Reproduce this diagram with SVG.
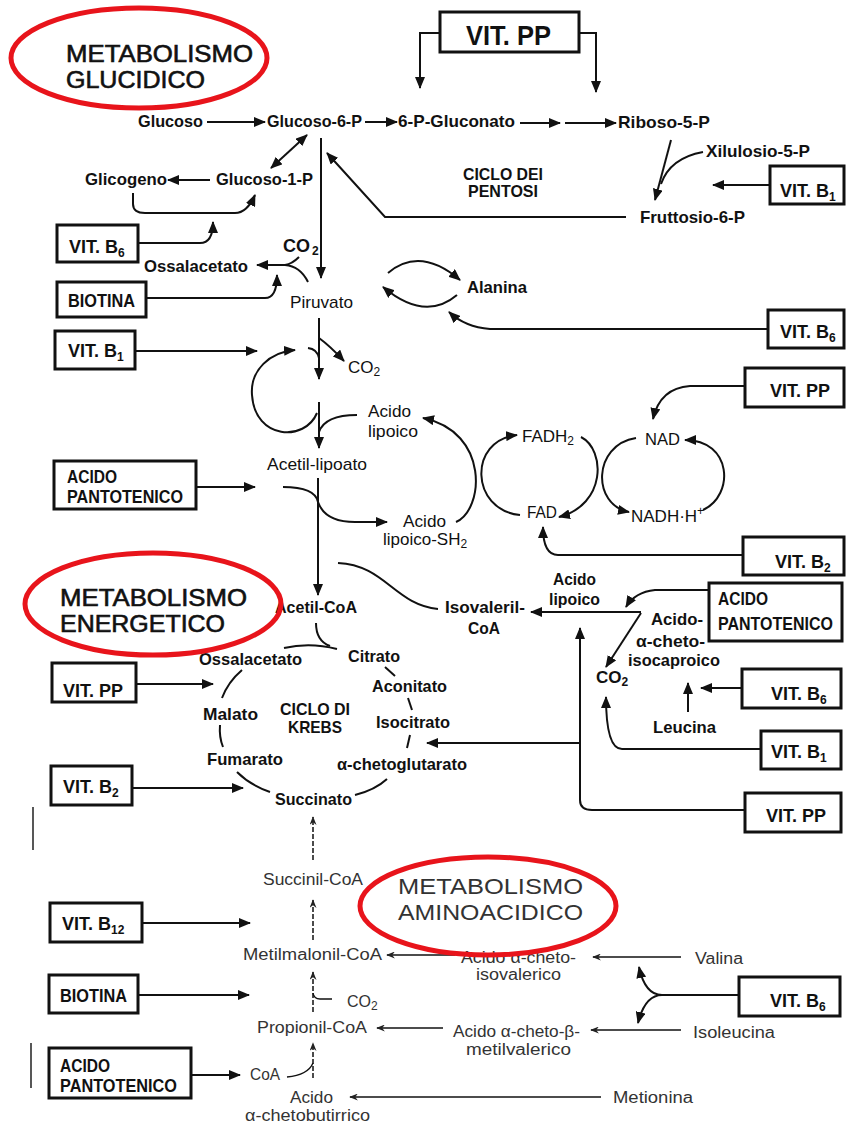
<svg xmlns="http://www.w3.org/2000/svg" width="846" height="1123" viewBox="0 0 846 1123">
<defs>
<style>
text{font-family:"Liberation Sans",Arial,sans-serif;fill:#111}
.b{font-weight:bold;font-size:17px}
.r{font-size:17px}
.bx{font-weight:bold;font-size:18px}
.big{font-size:23px;stroke:#111;stroke-width:0.6}
.lt{font-size:16px;fill:#333}
.ltb{font-size:22px;fill:#333}
.sub{font-size:12px}
rect{fill:#fff;stroke:#111;stroke-width:3}
#connectors path{fill:none;stroke:#111;stroke-width:2}
#connectors .th{stroke-width:1.4}
#connectors .d{stroke-width:1.5;stroke-dasharray:5 2}
.ell{fill:none;stroke:#e8141b;stroke-width:5}
</style>
<marker id="a" viewBox="0 0 12 10" refX="11" refY="5" markerWidth="12" markerHeight="10" markerUnits="userSpaceOnUse" orient="auto-start-reverse"><path d="M0,0 L12,5 L0,10 z" fill="#111"/></marker>
<marker id="s" viewBox="0 0 10 8" refX="9" refY="4" markerWidth="9" markerHeight="7" markerUnits="userSpaceOnUse" orient="auto"><path d="M0,0 L10,4 L0,8 L3,4 z" fill="#222"/></marker>
</defs>
<rect x="0" y="0" width="846" height="1123" style="fill:#fff;stroke:none"/>

<g id="connectors">
<path d="M440,33 H420 V88" marker-end="url(#a)"/>
<path d="M579,33 H596 V92" marker-end="url(#a)"/>
<path d="M207,122 H265" marker-end="url(#a)"/>
<path d="M365,122 H397" marker-end="url(#a)"/>
<path d="M520,123 H560" marker-end="url(#a)"/>
<path d="M565,123 H616" marker-end="url(#a)"/>
<path d="M307,135 L271,168" marker-start="url(#a)" marker-end="url(#a)"/>
<path d="M210,180 H168" marker-end="url(#a)"/>
<path d="M133,193 V204 Q133,213 145,213 H235 Q247,213 255,195" marker-end="url(#a)"/>
<path d="M138,243 H200 Q213,243 213,222" marker-end="url(#a)"/>
<path d="M321,138 V278" marker-end="url(#a)"/>
<path d="M626,217 H385 L327,153" marker-end="url(#a)"/>
<path d="M671,140 L655,200" marker-end="url(#a)"/>
<path d="M703,152 Q670,158 661,184"/>
<path d="M770,185 H713" marker-end="url(#a)"/>
<path d="M308,282 Q300,266 285,265 H257" marker-end="url(#a)"/>
<path d="M299,257 Q292,264 285,265"/>
<path d="M146,298 H265 Q277,298 277,275" marker-end="url(#a)"/>
<path d="M388,273 Q420,246 460,280" marker-end="url(#a)"/>
<path d="M457,295 Q425,322 383,287" marker-end="url(#a)"/>
<path d="M768,329 H490 Q465,327 449,312" marker-end="url(#a)"/>
<path d="M135,351 H257" marker-end="url(#a)"/>
<path d="M319,318 V379" marker-end="url(#a)"/>
<path d="M319,338 Q330,346 344,361" marker-end="url(#a)"/>
<path d="M308,348 Q317,349 319,358"/>
<path d="M317,413 C305,442 255,440 252,395 C250,370 270,352 295,350" marker-end="url(#a)"/>
<path d="M319,402 V448" marker-end="url(#a)"/>
<path d="M357,415 Q325,415 319,432"/>
<path d="M196,487 H255" marker-end="url(#a)"/>
<path d="M318,478 V595" marker-end="url(#a)"/>
<path d="M283,487 Q315,487 318,502 Q325,522 355,522 H387" marker-end="url(#a)"/>
<path d="M456,522 C484,510 490,432 423,418" marker-end="url(#a)"/>
<path d="M520,515 C470,510 468,440 517,435" marker-end="url(#a)"/>
<path d="M581,437 C606,450 606,505 559,517" marker-end="url(#a)"/>
<path d="M636,438 C592,445 592,505 629,512" marker-end="url(#a)"/>
<path d="M703,510 C735,495 732,440 685,440" marker-end="url(#a)"/>
<path d="M745,386 H690 Q660,388 653,419" marker-end="url(#a)"/>
<path d="M743,555 H558 Q543,555 543,527" marker-end="url(#a)"/>
<path d="M338,563 C385,565 395,605 438,609"/>
<path d="M641,612 H531" marker-end="url(#a)"/>
<path d="M641,613 L606,667" marker-end="url(#a)"/>
<path d="M709,590 H655 Q635,592 626,607" marker-end="url(#a)"/>
<path d="M742,688 H701" marker-end="url(#a)"/>
<path d="M688,712 V683" marker-end="url(#a)"/>
<path d="M761,749 H622 Q606,749 606,697" marker-end="url(#a)"/>
<path d="M580,743 V628" marker-end="url(#a)"/>
<path d="M580,743 V800 Q580,810 592,810 H745"/>
<path d="M580,743 H427" marker-end="url(#a)"/>
<path d="M316,623 Q316,641 330,646"/>
<path d="M284,648 Q310,642 337,649"/>
<path d="M242,670 Q228,682 222,698"/>
<path d="M220,725 Q219,737 223,747"/>
<path d="M237,772 Q250,785 270,792"/>
<path d="M355,795 Q375,790 387,779"/>
<path d="M385,667 L395,676"/>
<path d="M408,698 L412,710"/>
<path d="M410,735 L407,748"/>
<path d="M136,684 H213" marker-end="url(#a)"/>
<path d="M132,788 H243" marker-end="url(#a)"/>
<path class="d" d="M313,860 V817" marker-end="url(#s)"/>
<path class="d" d="M313,940 V900" marker-end="url(#s)"/>
<path d="M142,923 H250" marker-end="url(#a)"/>
<path class="th" d="M455,955 H387" marker-end="url(#s)"/>
<path class="th" d="M681,957 H593" marker-end="url(#s)"/>
<path d="M739,995 H662 Q645,995 639,967" marker-end="url(#a)"/>
<path d="M662,995 Q645,995 638,1023" marker-end="url(#a)"/>
<path d="M138,995 H249" marker-end="url(#a)"/>
<path class="d" d="M313,1012 V972" marker-end="url(#s)"/>
<path class="th" d="M332,999 H320 Q314,999 313,993"/>
<path class="th" d="M443,1028 H377" marker-end="url(#s)"/>
<path class="th" d="M681,1030 H591" marker-end="url(#s)"/>
<path d="M191,1075 H240" marker-end="url(#a)"/>
<path class="th" d="M287,1077 Q308,1075 313,1063"/>
<path class="d" d="M313,1078 V1043" marker-end="url(#s)"/>
<path class="th" d="M601,1097 H350" marker-end="url(#s)"/>
<path class="th" d="M33,807 V850"/>
<path class="th" d="M31,1043 V1088"/>
</g>

<g id="box-vitpp-top"><rect x="440" y="12" width="139" height="40"/><text x="466" y="45" style="font-weight:bold;font-size:28px" textLength="85" lengthAdjust="spacingAndGlyphs">VIT. PP</text></g>
<g id="box-vitb1-1"><rect x="770" y="166" width="74" height="38"/><text class="bx" x="780" y="197">VIT. B<tspan class="sub" dy="4">1</tspan></text></g>
<g id="box-vitb6-1"><rect x="57" y="225" width="81" height="37"/><text class="bx" x="69" y="253">VIT. B<tspan class="sub" dy="4">6</tspan></text></g>
<g id="box-biotina-1"><rect x="57" y="282" width="89" height="35"/><text class="bx" x="68" y="307" textLength="67" lengthAdjust="spacingAndGlyphs">BIOTINA</text></g>
<g id="box-vitb6-2"><rect x="768" y="310" width="76" height="38"/><text class="bx" x="780" y="338">VIT. B<tspan class="sub" dy="4">6</tspan></text></g>
<g id="box-vitb1-2"><rect x="55" y="331" width="80" height="38"/><text class="bx" x="68" y="357">VIT. B<tspan class="sub" dy="4">1</tspan></text></g>
<g id="box-vitpp-2"><rect x="745" y="368" width="99" height="39"/><text class="bx" x="770" y="397">VIT. PP</text></g>
<g id="box-pant-1"><rect x="54" y="461" width="142" height="48"/><text class="bx" x="67" y="483" textLength="50" lengthAdjust="spacingAndGlyphs">ACIDO</text><text class="bx" x="67" y="503" textLength="116" lengthAdjust="spacingAndGlyphs">PANTOTENICO</text></g>
<g id="box-vitb2-1"><rect x="743" y="537" width="101" height="38"/><text class="bx" x="775" y="568">VIT. B<tspan class="sub" dy="4">2</tspan></text></g>
<g id="box-pant-2"><rect x="709" y="583" width="133" height="58"/><text class="bx" x="718" y="605" textLength="50" lengthAdjust="spacingAndGlyphs">ACIDO</text><text class="bx" x="718" y="630" textLength="115" lengthAdjust="spacingAndGlyphs">PANTOTENICO</text></g>
<g id="box-vitpp-3"><rect x="52" y="663" width="84" height="39"/><text class="bx" x="63" y="697">VIT. PP</text></g>
<g id="box-vitb6-3"><rect x="742" y="669" width="99" height="39"/><text class="bx" x="771" y="700">VIT. B<tspan class="sub" dy="4">6</tspan></text></g>
<g id="box-vitb1-3"><rect x="761" y="731" width="80" height="38"/><text class="bx" x="771" y="758">VIT. B<tspan class="sub" dy="4">1</tspan></text></g>
<g id="box-vitb2-2"><rect x="51" y="766" width="81" height="39"/><text class="bx" x="63" y="793">VIT. B<tspan class="sub" dy="4">2</tspan></text></g>
<g id="box-vitpp-4"><rect x="745" y="793" width="96" height="39"/><text class="bx" x="766" y="822">VIT. PP</text></g>
<g id="box-vitb12"><rect x="50" y="903" width="92" height="39"/><text class="bx" x="62" y="930">VIT. B<tspan class="sub" dy="4">12</tspan></text></g>
<g id="box-biotina-2"><rect x="49" y="975" width="89" height="38"/><text class="bx" x="60" y="1002" textLength="67" lengthAdjust="spacingAndGlyphs">BIOTINA</text></g>
<g id="box-vitb6-4"><rect x="739" y="977" width="101" height="39"/><text class="bx" x="770" y="1007">VIT. B<tspan class="sub" dy="4">6</tspan></text></g>
<g id="box-pant-3"><rect x="49" y="1048" width="142" height="50"/><text class="bx" x="60" y="1072" textLength="50" lengthAdjust="spacingAndGlyphs">ACIDO</text><text class="bx" x="60" y="1092" textLength="117" lengthAdjust="spacingAndGlyphs">PANTOTENICO</text></g>

<g id="n-glucoso"><text class="b" x="138" y="127" textLength="65" lengthAdjust="spacingAndGlyphs">Glucoso</text></g>
<g id="n-g6p"><text class="b" x="267" y="127" textLength="95" lengthAdjust="spacingAndGlyphs">Glucoso-6-P</text></g>
<g id="n-6pg"><text class="b" x="398" y="127" textLength="117" lengthAdjust="spacingAndGlyphs">6-P-Gluconato</text></g>
<g id="n-r5p"><text class="b" x="618" y="128" textLength="92" lengthAdjust="spacingAndGlyphs">Riboso-5-P</text></g>
<g id="n-glicogeno"><text class="b" x="85" y="185" textLength="82" lengthAdjust="spacingAndGlyphs">Glicogeno</text></g>
<g id="n-g1p"><text class="b" x="216" y="185" textLength="97" lengthAdjust="spacingAndGlyphs">Glucoso-1-P</text></g>
<g id="n-x5p"><text class="b" x="706" y="157" textLength="104" lengthAdjust="spacingAndGlyphs">Xilulosio-5-P</text></g>
<g id="n-pentosi"><text class="b" x="463" y="180" textLength="80" lengthAdjust="spacingAndGlyphs">CICLO DEI</text><text class="b" x="468" y="197" textLength="70" lengthAdjust="spacingAndGlyphs">PENTOSI</text></g>
<g id="n-f6p"><text class="b" x="640" y="223" textLength="105" lengthAdjust="spacingAndGlyphs">Fruttosio-6-P</text></g>
<g id="n-co2-1"><text class="b" x="283" y="252" style="font-size:18px">CO<tspan class="sub" dx="2" dy="3">2</tspan></text></g>
<g id="n-ossal-1"><text class="b" x="144" y="272" textLength="104" lengthAdjust="spacingAndGlyphs">Ossalacetato</text></g>
<g id="n-piruvato"><text class="r" x="290" y="308" textLength="63" lengthAdjust="spacingAndGlyphs">Piruvato</text></g>
<g id="n-alanina"><text class="b" x="467" y="293" textLength="60" lengthAdjust="spacingAndGlyphs">Alanina</text></g>
<g id="n-co2-2"><text class="r" x="348" y="373">CO<tspan class="sub" dy="3">2</tspan></text></g>
<g id="n-lipoico"><text class="r" x="368" y="417" textLength="43" lengthAdjust="spacingAndGlyphs">Acido</text><text class="r" x="368" y="437" textLength="50" lengthAdjust="spacingAndGlyphs">lipoico</text></g>
<g id="n-fadh2"><text class="r" x="522" y="442">FADH<tspan class="sub" dy="3">2</tspan></text></g>
<g id="n-nad"><text class="r" x="645" y="445" textLength="35" lengthAdjust="spacingAndGlyphs">NAD</text></g>
<g id="n-acetlip"><text class="r" x="267" y="470" textLength="100" lengthAdjust="spacingAndGlyphs">Acetil-lipoato</text></g>
<g id="n-fad"><text class="r" x="527" y="518" textLength="30" lengthAdjust="spacingAndGlyphs">FAD</text></g>
<g id="n-nadh"><text class="r" x="631" y="522">NADH·H<tspan class="sub" dy="-7">+</tspan></text></g>
<g id="n-lipsh2"><text class="r" x="403" y="527" textLength="43" lengthAdjust="spacingAndGlyphs">Acido</text><text class="r" x="383" y="545">lipoico-SH<tspan class="sub" dy="3">2</tspan></text></g>
<g id="n-acetilcoa"><text class="b" x="275" y="613" textLength="82" lengthAdjust="spacingAndGlyphs">Acetil-CoA</text></g>
<g id="n-isoval"><text class="b" x="445" y="613" textLength="80" lengthAdjust="spacingAndGlyphs">Isovaleril-</text><text class="b" x="468" y="634" textLength="32" lengthAdjust="spacingAndGlyphs">CoA</text></g>
<g id="n-lipoico-2"><text class="b" x="553" y="585" textLength="43" lengthAdjust="spacingAndGlyphs">Acido</text><text class="b" x="549" y="605" textLength="51" lengthAdjust="spacingAndGlyphs">lipoico</text></g>
<g id="n-isocap"><text class="b" x="651" y="625" textLength="52" lengthAdjust="spacingAndGlyphs">Acido-</text><text class="b" x="636" y="647" textLength="69" lengthAdjust="spacingAndGlyphs">α-cheto-</text><text class="b" x="628" y="666" textLength="92" lengthAdjust="spacingAndGlyphs">isocaproico</text></g>
<g id="n-co2-3"><text class="b" x="596" y="683">CO<tspan class="sub" dy="3">2</tspan></text></g>
<g id="n-leucina"><text class="b" x="653" y="733" textLength="63" lengthAdjust="spacingAndGlyphs">Leucina</text></g>
<g id="n-ossal-2"><text class="b" x="199" y="665" textLength="103" lengthAdjust="spacingAndGlyphs">Ossalacetato</text></g>
<g id="n-citrato"><text class="b" x="348" y="662" textLength="52" lengthAdjust="spacingAndGlyphs">Citrato</text></g>
<g id="n-aconitato"><text class="b" x="372" y="692" textLength="75" lengthAdjust="spacingAndGlyphs">Aconitato</text></g>
<g id="n-krebs"><text class="b" x="280" y="715" textLength="70" lengthAdjust="spacingAndGlyphs">CICLO DI</text><text class="b" x="288" y="733" textLength="54" lengthAdjust="spacingAndGlyphs">KREBS</text></g>
<g id="n-malato"><text class="b" x="203" y="720" textLength="55" lengthAdjust="spacingAndGlyphs">Malato</text></g>
<g id="n-isocitrato"><text class="b" x="376" y="728" textLength="74" lengthAdjust="spacingAndGlyphs">Isocitrato</text></g>
<g id="n-fumarato"><text class="b" x="207" y="765" textLength="76" lengthAdjust="spacingAndGlyphs">Fumarato</text></g>
<g id="n-akg"><text class="b" x="337" y="770" textLength="130" lengthAdjust="spacingAndGlyphs">α-chetoglutarato</text></g>
<g id="n-succinato"><text class="b" x="275" y="805" textLength="77" lengthAdjust="spacingAndGlyphs">Succinato</text></g>
<g id="n-succinilcoa"><text class="lt" x="263" y="885" textLength="100" lengthAdjust="spacingAndGlyphs">Succinil-CoA</text></g>
<g id="n-metilmal"><text class="lt" x="243" y="960" textLength="139" lengthAdjust="spacingAndGlyphs">Metilmalonil-CoA</text></g>
<g id="n-isovalerico"><text class="lt" x="461" y="963" textLength="115" lengthAdjust="spacingAndGlyphs">Acido α-cheto-</text><text class="lt" x="476" y="980" textLength="85" lengthAdjust="spacingAndGlyphs">isovalerico</text></g>
<g id="n-valina"><text class="lt" x="695" y="964" textLength="48" lengthAdjust="spacingAndGlyphs">Valina</text></g>
<g id="n-co2-4"><text class="lt" x="347" y="1007">CO<tspan class="sub" dy="3">2</tspan></text></g>
<g id="n-propionil"><text class="lt" x="257" y="1033" textLength="110" lengthAdjust="spacingAndGlyphs">Propionil-CoA</text></g>
<g id="n-metilval"><text class="lt" x="453" y="1037" textLength="127" lengthAdjust="spacingAndGlyphs">Acido α-cheto-β-</text><text class="lt" x="466" y="1055" textLength="105" lengthAdjust="spacingAndGlyphs">metilvalerico</text></g>
<g id="n-isoleucina"><text class="lt" x="693" y="1038" textLength="82" lengthAdjust="spacingAndGlyphs">Isoleucina</text></g>
<g id="n-coa"><text class="lt" x="250" y="1080" textLength="30" lengthAdjust="spacingAndGlyphs">CoA</text></g>
<g id="n-chetobut"><text class="lt" x="290" y="1103" textLength="43" lengthAdjust="spacingAndGlyphs">Acido</text><text class="lt" x="245" y="1121" textLength="125" lengthAdjust="spacingAndGlyphs">α-chetobutirrico</text></g>
<g id="n-metionina"><text class="lt" x="613" y="1103" textLength="80" lengthAdjust="spacingAndGlyphs">Metionina</text></g>

<g id="label-glucidico"><text class="big" x="66" y="62" textLength="187" lengthAdjust="spacingAndGlyphs">METABOLISMO</text><text class="big" x="66" y="88" textLength="139" lengthAdjust="spacingAndGlyphs">GLUCIDICO</text><ellipse class="ell" cx="139" cy="58" rx="128" ry="50"/></g>
<g id="label-energetico"><text class="big" x="60" y="606" textLength="187" lengthAdjust="spacingAndGlyphs">METABOLISMO</text><text class="big" x="60" y="632" textLength="165" lengthAdjust="spacingAndGlyphs">ENERGETICO</text><ellipse class="ell" cx="153" cy="604" rx="128" ry="51"/></g>
<g id="label-aminoacidico"><text class="ltb" x="398" y="894" textLength="185" lengthAdjust="spacingAndGlyphs">METABOLISMO</text><text class="ltb" x="398" y="920" textLength="185" lengthAdjust="spacingAndGlyphs">AMINOACIDICO</text><ellipse class="ell" cx="488" cy="906" rx="128" ry="49"/></g>
</svg>
